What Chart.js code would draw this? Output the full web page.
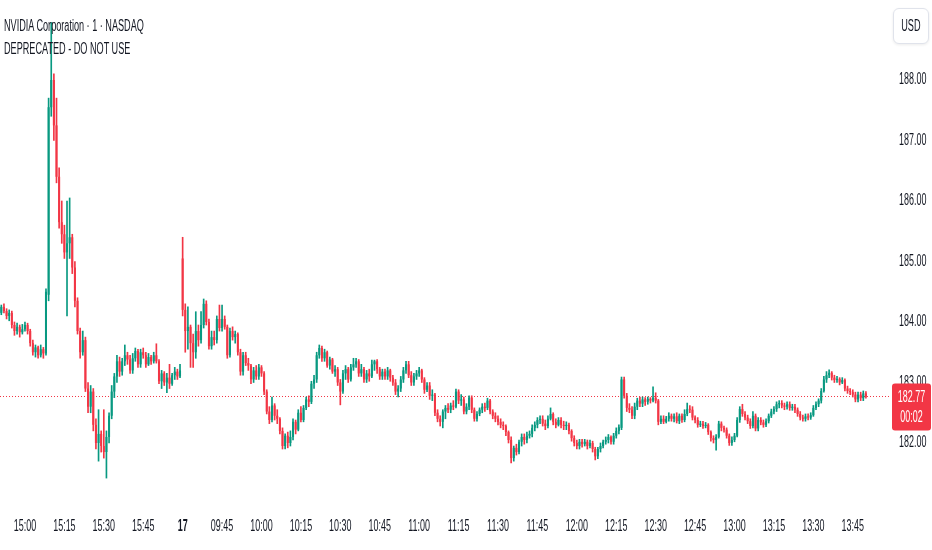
<!DOCTYPE html>
<html lang="en">
<head>
<meta charset="UTF-8">
<title>NVIDIA Corporation · 1 · NASDAQ</title>
<style>
  html, body { margin: 0; padding: 0; background: #fff; }
  #wrap { position: relative; width: 932px; height: 550px; overflow: hidden; }
  .legend {
    position: absolute; left: 4px; color: #131722; white-space: nowrap;
    font-family: 'Liberation Sans', Arial, sans-serif; font-size: 16px; line-height: 18px;
    transform: scaleX(0.57); transform-origin: left center;
  }
  #usd {
    position: absolute; left: 893px; top: 8px; width: 36px; height: 36px; box-sizing: border-box;
    border: 1px solid #e0e3eb; border-radius: 6px; box-shadow: 0 1px 3px rgba(0,0,0,0.08);
    background: #fff; text-align: center; line-height: 34px;
  }
  #usd span {
    display: inline-block; color: #131722;
    font-family: 'Liberation Sans', Arial, sans-serif; font-size: 16px;
    transform: scaleX(0.57);
  }
</style>
</head>
<body>
<div id="wrap">
  <canvas id="myChart" width="932" height="550"></canvas>
  <div class="legend" style="top: 17px">NVIDIA Corporation · 1 · NASDAQ</div>
  <div class="legend" style="top: 40px">DEPRECATED - DO NOT USE</div>
  <div id="usd"><span>USD</span></div>
</div>
<script src="https://cdn.jsdelivr.net/npm/chart.js"></script>
<script>
  // 1-minute bars: the end of the 16th session, then the 17th up to 13:50
  const sessions = [['14:51', '15:59'], ['09:30', '13:56']]; // last 6 slots are empty right margin
  const dayLabel = '17';

  const open = [
    184.15,184.25,184.18,184.10,184.15,183.95,183.85,183.92,183.83,183.88,
    183.95,183.85,183.65,183.50,183.58,183.45,183.55,183.48,184.45,187.55,
    188.00,187.25,186.40,185.65,185.45,185.15,185.30,185.40,184.90,184.35,
    183.85,183.50,183.70,182.90,182.60,182.85,182.30,182.00,182.15,181.95,
    181.85,182.10,182.45,182.85,183.10,183.35,183.18,183.35,183.45,183.38,
    183.20,183.40,183.52,183.30,183.50,183.45,183.30,183.42,183.35,183.45,
    183.35,183.02,183.15,183.00,183.08,182.98,183.12,183.18,183.10,
    185.05,184.20,183.85,183.92,183.65,183.50,183.85,183.70,183.95,184.30,
    184.00,183.60,183.75,183.70,184.05,183.90,184.05,183.92,183.45,183.85,
    183.75,183.80,183.50,183.18,183.45,183.32,183.28,183.05,183.20,183.10,
    183.25,183.15,182.85,182.52,182.38,182.62,182.45,182.40,182.20,181.95,
    182.12,182.00,182.10,182.35,182.22,182.50,182.38,182.58,182.72,182.68,
    182.98,183.05,183.45,183.57,183.40,183.50,183.28,183.38,183.18,183.22,
    183.00,182.85,183.15,183.22,183.05,183.25,183.30,183.35,183.15,183.22,
    183.05,183.15,183.10,183.30,183.35,183.22,183.10,183.18,183.10,183.20,
    183.08,183.00,182.85,182.90,183.05,183.20,183.30,183.12,183.00,183.10,
    183.15,183.20,183.05,182.88,182.95,182.78,182.80,182.50,182.40,182.35,
    182.52,182.58,182.55,182.62,182.60,182.85,182.70,182.72,182.52,182.60,
    182.75,182.55,182.40,182.48,182.55,182.60,182.58,182.70,182.52,182.45,
    182.40,182.35,182.30,182.28,182.18,182.05,181.75,181.92,181.85,182.02,
    182.10,182.05,182.12,182.15,182.25,182.30,182.38,182.40,182.32,182.28,
    182.40,182.48,182.35,182.30,182.38,182.30,182.28,182.30,182.20,182.08,
    182.00,181.95,182.02,181.98,182.02,181.95,182.00,181.90,181.78,181.90,
    181.95,182.02,182.05,182.10,182.02,182.12,182.20,182.25,183.05,182.78,
    182.58,182.55,182.45,182.60,182.70,182.65,182.72,182.68,182.73,182.70,
    182.75,182.70,182.35,182.40,182.35,182.40,182.45,182.40,182.44,182.36,
    182.45,182.38,182.48,182.56,182.55,182.42,182.38,182.30,182.32,182.28,
    182.30,182.18,182.08,182.05,182.10,182.32,182.25,182.22,182.12,182.00,
    182.05,182.12,182.38,182.56,182.48,182.42,182.36,182.28,182.45,182.24,
    182.38,182.34,182.30,182.36,182.45,182.52,182.56,182.64,182.66,182.62,
    182.60,182.64,182.58,182.60,182.55,182.48,182.42,182.40,182.44,182.42,
    182.46,182.58,182.64,182.70,182.86,183.05,183.12,183.16,183.08,183.04,
    183.06,183.00,183.04,182.90,182.86,182.84,182.80,182.72,182.80,182.74,182.82
  ];
  const high = [
    184.28,184.30,184.22,184.20,184.18,184.00,183.98,183.95,183.96,184.00,
    183.98,183.88,183.70,183.62,183.60,183.62,183.58,184.55,187.70,188.95,
    188.10,187.70,186.55,186.00,185.60,186.00,186.05,185.45,185.00,184.40,
    183.90,183.85,183.75,183.00,182.95,182.90,182.40,182.55,182.20,182.55,
    182.20,182.50,182.95,183.15,183.45,183.42,183.40,183.62,183.50,183.45,
    183.48,183.57,183.55,183.55,183.57,183.50,183.48,183.45,183.50,183.64,
    183.38,183.20,183.18,183.15,183.30,183.15,183.25,183.22,183.30,
    185.40,184.30,184.25,183.95,183.80,184.17,183.95,184.17,184.38,184.35,
    184.05,183.85,183.85,184.10,184.28,184.28,184.10,183.95,183.90,183.92,
    183.85,183.82,183.55,183.50,183.50,183.40,183.30,183.25,183.28,183.30,
    183.28,183.18,182.88,182.60,182.76,182.65,182.55,182.42,182.25,182.15,
    182.18,182.20,182.40,182.38,182.55,182.60,182.62,182.76,182.78,183.02,
    183.12,183.50,183.62,183.60,183.55,183.52,183.42,183.40,183.28,183.25,
    183.05,183.20,183.28,183.25,183.30,183.40,183.40,183.38,183.30,183.25,
    183.20,183.22,183.37,183.37,183.38,183.25,183.22,183.22,183.25,183.22,
    183.12,183.05,182.95,183.10,183.25,183.35,183.35,183.18,183.15,183.20,
    183.25,183.22,183.08,183.00,183.00,182.88,182.82,182.55,182.45,182.55,
    182.62,182.65,182.66,182.70,182.89,182.88,182.80,182.76,182.65,182.78,
    182.78,182.58,182.52,182.58,182.65,182.66,182.74,182.72,182.55,182.50,
    182.45,182.40,182.35,182.30,182.20,182.10,181.95,181.98,182.05,182.15,
    182.15,182.18,182.20,182.30,182.35,182.42,182.45,182.45,182.38,182.45,
    182.58,182.50,182.40,182.42,182.42,182.36,182.35,182.33,182.22,182.12,
    182.05,182.06,182.06,182.06,182.05,182.05,182.03,181.93,181.93,182.00,
    182.05,182.10,182.14,182.12,182.16,182.25,182.30,183.09,183.09,182.82,
    182.65,182.60,182.66,182.74,182.76,182.76,182.75,182.76,182.75,182.93,
    182.83,182.72,182.45,182.45,182.44,182.50,182.48,182.48,182.50,182.48,
    182.48,182.55,182.66,182.62,182.60,182.45,182.42,182.36,182.36,182.34,
    182.32,182.20,182.12,182.14,182.36,182.35,182.28,182.25,182.15,182.10,
    182.16,182.42,182.60,182.64,182.52,182.46,182.40,182.52,182.48,182.42,
    182.42,182.38,182.40,182.48,182.56,182.60,182.68,182.70,182.70,182.66,
    182.68,182.68,182.64,182.64,182.58,182.52,182.46,182.48,182.48,182.50,
    182.62,182.68,182.73,182.90,183.10,183.18,183.21,183.18,183.12,183.10,
    183.08,183.08,183.06,182.94,182.90,182.88,182.84,182.84,182.84,182.86,182.85
  ];
  const low = [
    184.12,184.15,184.05,184.02,183.90,183.78,183.80,183.75,183.80,183.85,
    183.80,183.60,183.45,183.42,183.40,183.42,183.40,183.45,184.35,187.40,
    187.00,186.30,185.55,185.30,185.05,184.10,185.05,184.80,184.25,183.80,
    183.40,183.45,182.85,182.50,182.50,182.20,181.90,181.70,181.85,181.75,
    181.42,182.00,182.40,182.75,183.00,183.10,183.12,183.28,183.30,183.15,
    183.15,183.35,183.25,183.25,183.40,183.25,183.28,183.30,183.32,183.32,
    182.98,182.90,182.95,182.83,182.90,182.95,183.05,183.05,183.08,
    184.10,183.50,183.55,183.25,183.25,183.40,183.60,183.65,183.90,183.95,
    183.55,183.55,183.62,183.65,183.85,183.85,183.88,183.40,183.42,183.70,
    183.65,183.45,183.12,183.12,183.28,183.20,182.98,183.00,183.05,183.05,
    183.10,182.80,182.48,182.32,182.35,182.38,182.32,182.15,181.90,181.90,
    181.92,181.95,182.05,182.15,182.20,182.35,182.35,182.55,182.60,182.65,
    182.90,183.00,183.40,183.35,183.35,183.25,183.22,183.15,183.10,182.95,
    182.63,182.82,183.05,183.00,183.02,183.20,183.25,183.10,183.10,183.00,
    183.00,183.02,183.08,183.20,183.15,183.05,183.05,183.05,183.05,183.02,
    182.95,182.80,182.76,182.85,183.00,183.15,183.08,182.95,182.95,183.05,
    183.10,183.00,182.82,182.85,182.72,182.70,182.45,182.35,182.28,182.25,
    182.40,182.50,182.50,182.55,182.58,182.65,182.62,182.48,182.48,182.55,
    182.50,182.36,182.36,182.45,182.50,182.52,182.55,182.48,182.40,182.35,
    182.30,182.25,182.22,182.12,182.00,181.67,181.70,181.80,181.82,181.95,
    181.98,182.00,182.08,182.10,182.20,182.25,182.32,182.28,182.22,182.25,
    182.38,182.30,182.25,182.28,182.25,182.22,182.22,182.15,182.03,181.95,
    181.90,181.90,181.93,181.95,181.90,181.92,181.85,181.72,181.74,181.85,
    181.92,181.98,182.00,181.98,181.98,182.08,182.15,182.22,182.74,182.52,
    182.50,182.40,182.40,182.55,182.60,182.60,182.62,182.64,182.66,182.68,
    182.66,182.30,182.32,182.32,182.33,182.36,182.36,182.35,182.33,182.32,
    182.34,182.35,182.45,182.50,182.38,182.33,182.26,182.27,182.24,182.25,
    182.14,182.03,182.00,181.88,182.08,182.20,182.18,182.08,181.96,181.96,
    182.02,182.10,182.34,182.44,182.38,182.32,182.24,182.25,182.20,182.20,
    182.30,182.26,182.27,182.33,182.42,182.48,182.52,182.58,182.58,182.55,
    182.56,182.54,182.54,182.50,182.44,182.38,182.36,182.36,182.38,182.39,
    182.44,182.55,182.60,182.66,182.84,183.00,183.08,183.04,183.00,183.00,
    182.96,182.98,182.86,182.82,182.80,182.76,182.68,182.68,182.70,182.70,182.74
  ];
  const close = [
    184.25,184.18,184.10,184.15,183.95,183.85,183.92,183.83,183.88,183.95,
    183.85,183.65,183.50,183.58,183.45,183.55,183.48,184.50,187.55,188.00,
    187.25,186.40,185.65,185.45,185.15,185.30,185.40,184.90,184.35,183.85,
    183.50,183.70,182.90,182.60,182.85,182.30,182.00,182.15,181.95,181.85,
    182.10,182.45,182.85,183.10,183.35,183.18,183.35,183.45,183.38,183.20,
    183.40,183.52,183.30,183.50,183.45,183.30,183.42,183.35,183.45,183.35,
    183.02,183.15,183.00,183.08,182.98,183.12,183.18,183.10,183.20,
    184.20,183.85,183.92,183.65,183.50,183.85,183.70,183.95,184.30,184.00,
    183.60,183.75,183.70,184.05,183.90,184.05,183.92,183.45,183.85,183.75,
    183.80,183.50,183.18,183.45,183.32,183.28,183.05,183.20,183.10,183.25,
    183.15,182.85,182.52,182.38,182.62,182.45,182.40,182.20,181.95,182.12,
    182.00,182.10,182.35,182.22,182.50,182.38,182.58,182.72,182.68,182.98,
    183.05,183.45,183.57,183.40,183.50,183.28,183.38,183.18,183.22,183.00,
    182.85,183.15,183.22,183.05,183.25,183.30,183.35,183.15,183.22,183.05,
    183.15,183.10,183.30,183.35,183.22,183.10,183.18,183.10,183.20,183.08,
    183.00,182.85,182.90,183.05,183.20,183.30,183.12,183.00,183.10,183.15,
    183.20,183.05,182.88,182.95,182.78,182.80,182.50,182.40,182.35,182.52,
    182.58,182.55,182.62,182.60,182.85,182.70,182.72,182.52,182.60,182.75,
    182.55,182.40,182.48,182.55,182.60,182.58,182.70,182.52,182.45,182.40,
    182.35,182.30,182.28,182.18,182.05,181.75,181.92,181.85,182.02,182.10,
    182.05,182.12,182.15,182.25,182.30,182.38,182.40,182.32,182.28,182.40,
    182.48,182.35,182.30,182.38,182.30,182.28,182.30,182.20,182.08,182.00,
    181.95,182.02,181.98,182.02,181.95,182.00,181.90,181.78,181.90,181.95,
    182.02,182.05,182.10,182.02,182.12,182.20,182.26,183.05,182.78,182.58,
    182.55,182.45,182.60,182.70,182.65,182.72,182.68,182.73,182.70,182.75,
    182.70,182.35,182.40,182.35,182.40,182.45,182.40,182.44,182.36,182.45,
    182.38,182.48,182.56,182.55,182.42,182.38,182.30,182.32,182.28,182.30,
    182.18,182.08,182.05,182.10,182.32,182.25,182.22,182.12,182.00,182.05,
    182.12,182.38,182.56,182.48,182.42,182.36,182.28,182.45,182.24,182.38,
    182.34,182.30,182.36,182.45,182.52,182.56,182.64,182.66,182.62,182.60,
    182.64,182.58,182.60,182.55,182.48,182.42,182.40,182.44,182.42,182.46,
    182.58,182.64,182.70,182.86,183.05,183.12,183.16,183.08,183.04,183.06,
    183.00,183.04,182.90,182.86,182.84,182.80,182.72,182.80,182.74,182.82,182.77
  ];

  const yTicks = [182, 183, 184, 185, 186, 187, 188];
  const yMin = 180.975, yMax = 189.322;
  const countdown = '00:02';

  const up = '#089981', down = '#F23645', textColor = '#131722';
  const fontFamily = "'Liberation Sans', Arial, sans-serif";
  const squeeze = 0.56; // the reference text is narrow

  // minute labels for each session
  function minuteRange(a, b) {
    const toMin = s => Number(s.slice(0, 2)) * 60 + Number(s.slice(3));
    const out = [];
    for (let m = toMin(a); m <= toMin(b); m++) {
      out.push(String(Math.floor(m / 60)).padStart(2, '0') + ':' + String(m % 60).padStart(2, '0'));
    }
    return out;
  }
  const times = sessions.flatMap(s => minuteRange(s[0], s[1]));
  const dayStart = minuteRange(sessions[0][0], sessions[0][1]).length;

  const candleColor = c => close[c.dataIndex] >= open[c.dataIndex] ? up : down;

  function narrowText(ctx, text, x, y, align, font, color) {
    ctx.save();
    ctx.translate(x, y);
    ctx.scale(squeeze, 1);
    ctx.font = font;
    ctx.fillStyle = color;
    ctx.textAlign = align;
    ctx.textBaseline = 'middle';
    ctx.fillText(text, 0, 0);
    ctx.restore();
  }

  // dotted last-price line, narrow tick labels and the red price tag
  const tradingViewLook = {
    id: 'tradingViewLook',
    beforeDatasetsDraw(chart) {
      const { ctx, chartArea, scales } = chart;
      const y = Math.round(scales.y.getPixelForValue(close[close.length - 1])) + 0.5;
      ctx.save();
      ctx.strokeStyle = down;
      ctx.lineWidth = 1;
      ctx.setLineDash([1, 2]);
      ctx.beginPath();
      ctx.moveTo(chartArea.left, y);
      ctx.lineTo(chartArea.right + 8, y);
      ctx.stroke();
      ctx.restore();
    },
    afterDraw(chart) {
      const { ctx, chartArea, scales } = chart;
      const sx = scales.x, sy = scales.y;
      sx.ticks.forEach((t, i) => {
        const bold = t.value === dayStart ? 'bold ' : '';
        narrowText(ctx, t.label, sx.getPixelForTick(i), 527, 'center', bold + '16px ' + fontFamily, textColor);
      });
      sy.ticks.forEach((t, i) => {
        narrowText(ctx, t.label, chartArea.right + 16, sy.getPixelForTick(i), 'left', '16px ' + fontFamily, textColor);
      });
      const last = close[close.length - 1];
      const y = sy.getPixelForValue(last);
      const x0 = chartArea.right + 9, w = 39, top = y - 13, h = 47;
      ctx.save();
      ctx.fillStyle = down;
      ctx.beginPath();
      ctx.roundRect(x0, top, w, h, 3);
      ctx.fill();
      ctx.restore();
      narrowText(ctx, last.toFixed(2), x0 + w / 2, y + 1, 'center', '16px ' + fontFamily, '#fff');
      narrowText(ctx, countdown, x0 + w / 2, y + 21, 'center', '16px ' + fontFamily, '#fff');
    }
  };

  const ctx = document.getElementById('myChart').getContext('2d');
  const myChart = new Chart(ctx, {
    type: 'bar',
    data: {
      labels: times,
      datasets: [
        {
          label: 'wick',
          data: low.map((l, i) => [l, high[i]]),
          backgroundColor: candleColor,
          barThickness: 1,
          grouped: false,
          order: 2
        },
        {
          label: 'body',
          data: open.map((o, i) => [o, close[i]]),
          backgroundColor: candleColor,
          barPercentage: 0.78,
          categoryPercentage: 1,
          minBarLength: 1,
          grouped: false,
          order: 1
        }
      ]
    },
    options: {
      responsive: false,
      animation: false,
      layout: { padding: 0 },
      plugins: { legend: { display: false }, tooltip: { enabled: false } },
      scales: {
        x: {
          offset: true,
          grid: { display: false, drawTicks: false },
          border: { display: false },
          afterBuildTicks: s => {
            s.ticks = s.ticks.filter(t => Number(times[t.value].slice(3)) % 15 === 0);
          },
          afterFit: s => { s.height = 45; },
          ticks: {
            display: false,
            autoSkip: false,
            maxRotation: 0,
            callback: v => v === dayStart ? dayLabel : times[v]
          }
        },
        y: {
          position: 'right',
          min: yMin,
          max: yMax,
          grid: { display: false, drawTicks: false },
          border: { display: false },
          afterBuildTicks: s => { s.ticks = yTicks.map(v => ({ value: v })); },
          afterFit: s => { s.width = 49; },
          ticks: {
            display: false,
            callback: v => v.toFixed(2)
          }
        }
      }
    },
    plugins: [tradingViewLook]
  });
</script>
</body>
</html>
